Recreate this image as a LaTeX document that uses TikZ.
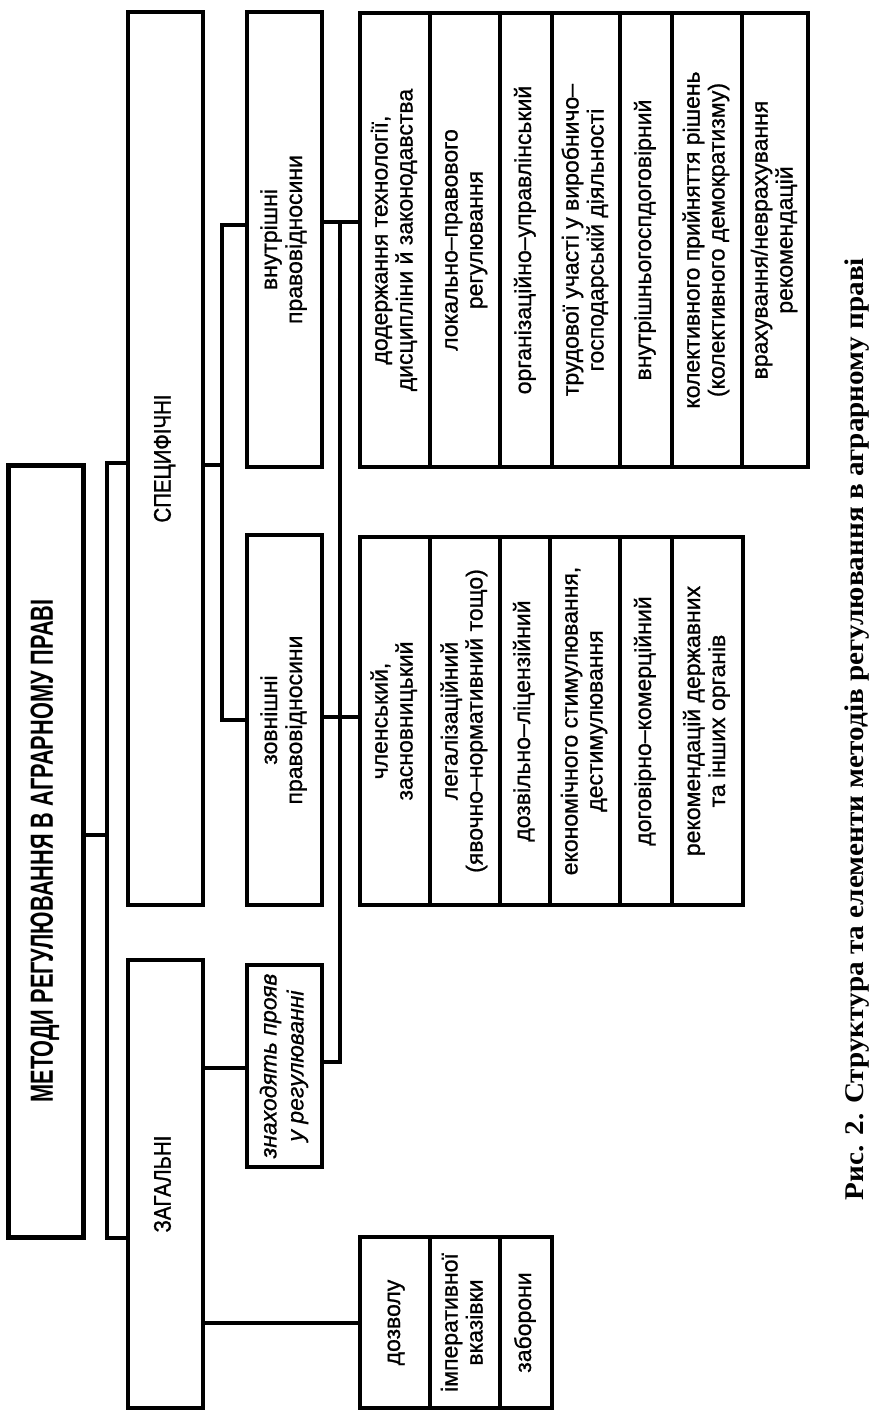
\documentclass[tikz,border=0pt]{standalone}
\usepackage{fontspec}
\usepackage{graphicx}
\setmainfont{Liberation Sans}[FakeBold=0.9]
\newfontfamily\condf[FakeStretch=0.85,FakeBold=1.2]{Liberation Sans}
\newfontfamily\titlef[FakeStretch=0.68]{Liberation Sans}
\newfontfamily\capserif{Liberation Serif}
\newcommand\rtxt[1]{\rotatebox{90}{\begin{tabular}{@{}c@{}}#1\end{tabular}}}
\tikzset{
  box/.style={draw, line width=4pt, rectangle, inner sep=0pt, outer sep=0pt, font=\fontsize{23}{25}\selectfont},
  capbox/.style={box, font=\condf\fontsize{24}{26}\selectfont},
  conn/.style={line width=3.5pt},
}
\begin{document}
\begin{tikzpicture}[x=1pt,y=-1pt]
\useasboundingbox (0,0) rectangle (880,1426);
\fill[white] (0,0) rectangle (880,1426);
% title
\node[box, line width=5pt, minimum width=75pt, minimum height=772pt] (title) at (45.5,851)
  {\rtxt{\titlef\bfseries\fontsize{32}{34}\selectfont МЕТОДИ РЕГУЛЮВАННЯ В АГРАРНОМУ ПРАВІ}};
% level 2
\node[capbox, minimum width=75pt, minimum height=893pt] (spec) at (165.5,458.5) {\rtxt{СПЕЦИФІЧНІ}};
\node[capbox, minimum width=75pt, minimum height=448pt] (zag) at (165.5,1184) {\rtxt{ЗАГАЛЬНІ}};
% level 3
\node[box, minimum width=75pt, minimum height=455pt] (vnutr) at (284.5,239.5) {\rtxt{внутрішні\\правовідносини}};
\node[box, minimum width=75pt, minimum height=370pt] (zovn) at (284.5,720) {\rtxt{зовнішні\\правовідносини}};
\node[box, minimum width=75pt, minimum height=202pt, font=\itshape\fontsize{23}{27}\selectfont] (znah) at (284.5,1066) {\rtxt{знаходять прояв\\у регулюванні}};
% upper group
\node[box, minimum width=70pt, minimum height=454pt] (u1) at (395,240) {\rtxt{додержання технології,\\дисципліни й законодавства}};
\node[box, minimum width=70pt, minimum height=454pt] (u2) at (465,240) {\rtxt{локально–правового\\регулювання}};
\node[box, minimum width=52pt, minimum height=454pt] (u3) at (526,240) {\rtxt{організаційно–управлінський}};
\node[box, minimum width=68pt, minimum height=454pt] (u4) at (586,240) {\rtxt{трудової участі у виробничо–\\господарській діяльності}};
\node[box, minimum width=52pt, minimum height=454pt] (u5) at (646,240) {\rtxt{внутрішньогоспдоговірний}};
\node[box, minimum width=70pt, minimum height=454pt] (u6) at (707,240) {\rtxt{колективного прийняття рішень\\(колективного демократизму)}};
\node[box, minimum width=66pt, minimum height=454pt] (u7) at (775,240) {\rtxt{врахування/неврахування\\рекомендацій}};
% lower group
\node[box, minimum width=70pt, minimum height=368pt] (l1) at (395,721) {\rtxt{членський,\\засновницький}};
\node[box, minimum width=70pt, minimum height=368pt] (l2) at (465,721) {\rtxt{легалізаційний\\(явочно–нормативний тощо)}};
\node[box, minimum width=50pt, minimum height=368pt] (l3) at (525,721) {\rtxt{дозвільно–ліцензійний}};
\node[box, minimum width=70pt, minimum height=368pt] (l4) at (585,721) {\rtxt{економічного стимулювання,\\дестимулювання}};
\node[box, minimum width=52pt, minimum height=368pt] (l5) at (646,721) {\rtxt{договірно–комерційний}};
\node[box, minimum width=71pt, minimum height=368pt] (l6) at (707.5,721) {\rtxt{рекомендацій державних\\та інших органів}};
% general group
\node[box, minimum width=70pt, minimum height=171pt] (g1) at (395,1322.5) {\rtxt{дозволу}};
\node[box, minimum width=70pt, minimum height=171pt] (g2) at (465,1322.5) {\rtxt{імперативної\\вказівки}};
\node[box, minimum width=52pt, minimum height=171pt] (g3) at (526,1322.5) {\rtxt{заборони}};
% connectors
\coordinate (b1) at (107,835);
\coordinate (b1t) at (107,463);
\coordinate (b1b) at (107,1238);
\draw[conn] (title.east|-b1) -- (b1);
\draw[conn] (spec.west|-b1t) -- (b1t) -- (b1b) -- (zag.west|-b1b);
\coordinate (b2) at (222,465);
\coordinate (b2t) at (222,225);
\coordinate (b2b) at (222,720);
\draw[conn] (spec.east|-b2) -- (b2);
\draw[conn] (vnutr.west|-b2t) -- (b2t) -- (b2b) -- (zovn.west|-b2b);
\coordinate (b3t) at (340,222);
\coordinate (b3m) at (340,717);
\coordinate (b3b) at (340,1062);
\draw[conn] (vnutr.east|-b3t) -- (u1.west|-b3t);
\draw[conn] (zovn.east|-b3m) -- (l1.west|-b3m);
\draw[conn] (b3t) -- (b3b) -- (znah.east|-b3b);
\coordinate (b4) at (225,1068);
\draw[conn] (zag.east|-b4) -- (znah.west|-b4);
\coordinate (b5) at (280,1323);
\draw[conn] (zag.east|-b5) -- (g1.west|-b5);
% caption
\node[rotate=90] (cap) at (857,729) {\resizebox{942pt}{\height}{\capserif\bfseries\fontsize{27}{30}\selectfont Рис. 2. Структура та елементи методів регулювання в аграрному праві}};
\end{tikzpicture}
\end{document}
